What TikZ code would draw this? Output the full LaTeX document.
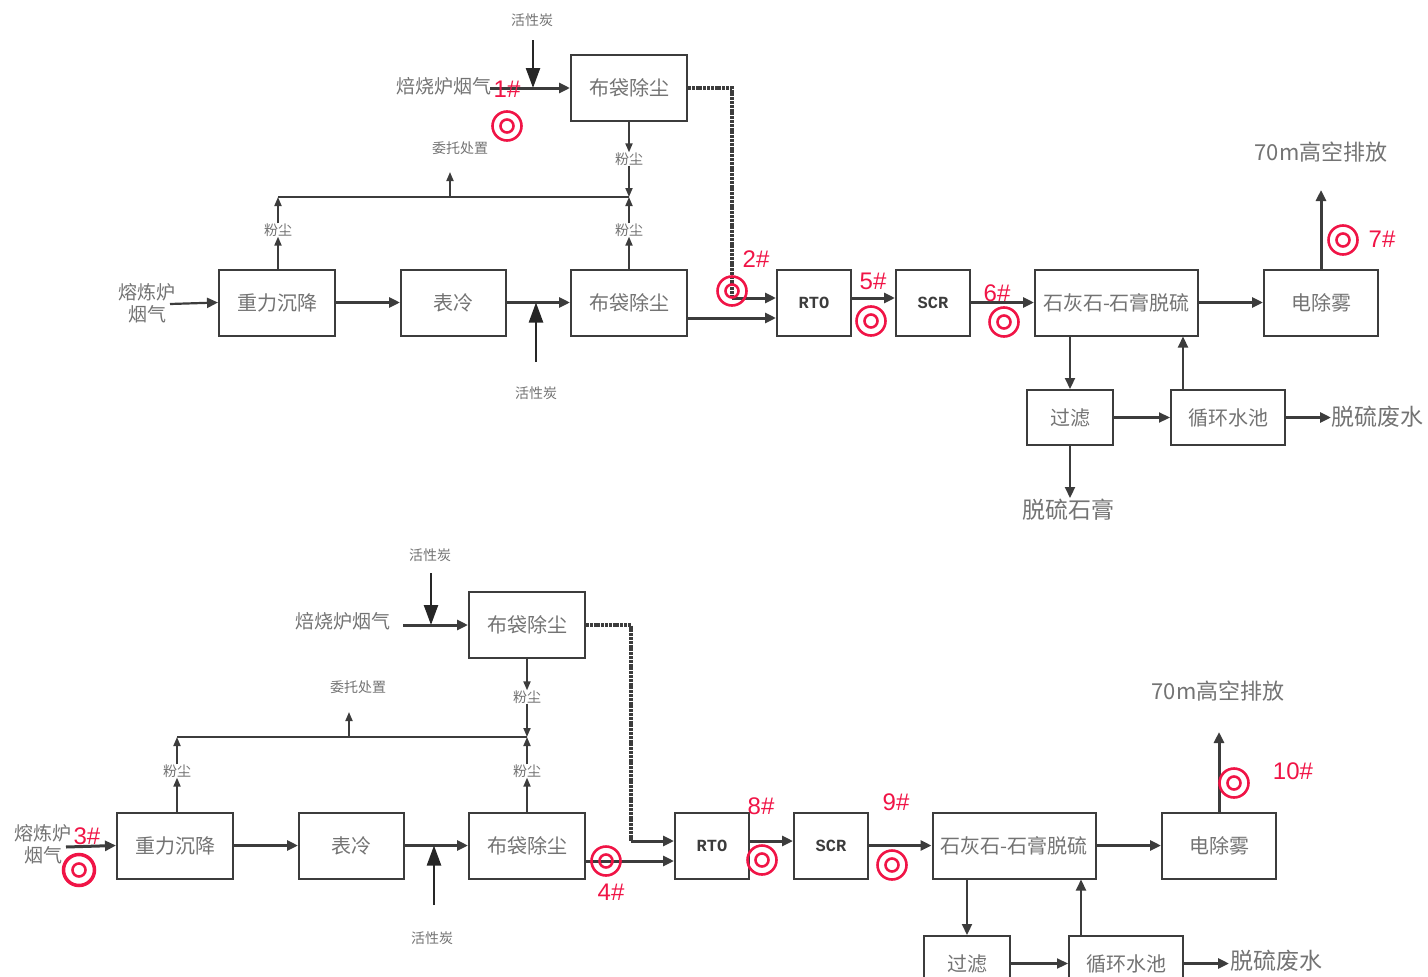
\documentclass[tikz,border=0pt]{standalone}
\usepackage{fontspec}
\setmainfont{Noto Sans CJK SC}
\newfontfamily\latinred{Liberation Sans}
\newfontfamily\monob{Liberation Mono}
\usetikzlibrary{arrows.meta,calc}
\definecolor{tred}{RGB}{240,20,70}
\definecolor{lin}{RGB}{60,60,60}
\definecolor{txt}{RGB}{115,115,115}
\tikzset{
 box/.style={draw=lin,line width=2pt,fill=white,inner sep=0pt,font=\fontsize{20}{22}\selectfont,text=txt},
 boxa/.style={box,minimum width=116pt,minimum height=66pt},
 boxb/.style={box,minimum width=105pt,minimum height=66pt},
 boxc/.style={box,minimum width=74pt,minimum height=66pt,font=\monob\bfseries\fontsize{17}{19}\selectfont,text=lin},
 boxd/.style={box,minimum width=163pt,minimum height=66pt},
 boxe/.style={box,minimum width=86pt,minimum height=55pt},
 boxf/.style={box,minimum width=114pt,minimum height=55pt},
 lab/.style={inner sep=0pt,text=txt,font=\fontsize{19}{21}\selectfont},
 small/.style={inner sep=0pt,text=txt,font=\fontsize{14}{16}\selectfont},
 big/.style={inner sep=0pt,text=txt,font=\fontsize{23}{25}\selectfont},
 vent/.style={inner sep=0pt,text=txt,font=\fontsize{22}{24}\selectfont},
 num/.style={inner sep=0pt,text=tred,font=\latinred\fontsize{24}{26}\selectfont},
 target/.style={circle,draw=tred,line width=2.6pt,minimum size=29pt,inner sep=0pt,
   path picture={\draw[tred,line width=2.6pt] (path picture bounding box.center) circle (6.5);}},
 flow/.style={draw=lin,line width=3pt,-{Triangle[length=11pt,width=10pt]}},
 feed/.style={draw=lin,line width=2.2pt,-{Triangle[length=11pt,width=10pt]}},
 thin/.style={draw=lin,line width=1.8pt,-{Triangle[length=9pt,width=7pt]}},
 plain/.style={draw=lin,line width=2pt},
 duct/.style={draw=lin,line width=3.6pt,dash pattern=on 3pt off 0.8pt},
 bigin/.style={draw=black!85,line width=2.4pt,-{Triangle[length=20pt,width=14pt]}},
}
\begin{document}
\begin{tikzpicture}[x=1pt,y=-1pt]
\useasboundingbox (0,0) rectangle (1428,977);
\clip (0,0) rectangle (1428,977);
% ---------- upper line ----------
\node[boxa] (bagA) at (629,88) {布袋除尘};
\node[boxa] (gravA) at (277,302.5) {重力沉降};
\node[boxb] (coolA) at (453.5,302.5) {表冷};
\node[boxa] (bagB) at (629,302.5) {布袋除尘};
\node[boxc] (rtoA) at (814,302.5) {RTO};
\node[boxc] (scrA) at (933,302.5) {SCR};
\node[boxd] (fgdA) at (1116.5,302.5) {石灰石-石膏脱硫};
\node[boxa,minimum width=114pt] (espA) at (1321,302.5) {电除雾};
\node[boxe] (filA) at (1070,417.5) {过滤};
\node[boxf] (poolA) at (1228,417.5) {循环水池};
\node[small] (acA) at (532,20) {活性炭};
\node[lab] (roastA) at (444,86) {焙烧炉烟气};
\node[small] (dustA) at (629,159) {粉尘};
\node[small] (dustB) at (629,230) {粉尘};
\node[small] (dustC) at (278,230) {粉尘};
\node[small] (entA) at (460,148) {委托处置};
\node[lab,align=center] (smeltA) at (147,303.5) {熔炼炉\\[1pt]烟气};
\node[small] (acB) at (536,393) {活性炭};
\node[vent] (ventA) at (1321,152) {70m高空排放};
\node[big] (gypA) at (1068,510) {脱硫石膏};
\node[big] (wasteA) at (1377,417) {脱硫废水};
\coordinate (roastAs) at (490,88);
\coordinate (acAj) at (533,88);
\coordinate (ductAc) at (732,88);
\coordinate (ductAd) at (732,298);
\coordinate (jA) at (629,197);
\coordinate (jB) at (278,197);
\coordinate (jC) at (450,197);
\coordinate (acBj) at (536,302.5);
\draw[flow] (roastAs) -- (bagA.west);
\draw[bigin] (533,40) -- (acAj);
\draw[duct] (bagA.east) -- (ductAc) -- (ductAd);
\draw[flow] (ductAd) -- ([yshift=4.5pt]rtoA.west);
\draw[flow] ([yshift=-15.5pt]bagB.east) -- ([yshift=-15.5pt]rtoA.west);
\draw[thin] (bagA.south) -- (dustA.north);
\draw[thin] (dustA.south) -- (jA);
\draw[thin] (dustB.north) -- (jA);
\draw[thin] (bagB.north) -- (dustB.south);
\draw[thin] (gravA.north -| dustC) -- (dustC.south);
\draw[thin] (dustC.north) -- (jB);
\draw[plain] (jB) -- (jA);
\draw[thin] (jC) -- (450,172);
\draw[feed] (170,304) -- (gravA.west);
\draw[flow] (gravA.east) -- (coolA.west);
\draw[flow] (coolA.east) -- (bagB.west);
\draw[bigin] (536,362) -- (acBj);
\draw[flow] ([yshift=4.5pt]rtoA.east) -- ([yshift=4.5pt]scrA.west);
\draw[flow] (scrA.east) -- (fgdA.west);
\draw[flow] (fgdA.east) -- (espA.west);
\draw[flow] (espA.north) -- (1321,190);
\draw[feed] (fgdA.south -| filA) -- (filA.north);
\draw[feed] (filA.south) -- (1070,498);
\draw[feed] (filA.east) -- (poolA.west);
\draw[feed] (poolA.north -| 1183,0) -- (fgdA.south -| 1183,0);
\draw[flow] (poolA.east) -- (1331,417.5);
% ---------- lower line ----------
\node[boxa] (bagC) at (527,625) {布袋除尘};
\node[boxa] (gravB) at (175,845.5) {重力沉降};
\node[boxb] (coolB) at (351.5,845.5) {表冷};
\node[boxa] (bagD) at (527,845.5) {布袋除尘};
\node[boxc] (rtoB) at (712,845.5) {RTO};
\node[boxc] (scrB) at (831,845.5) {SCR};
\node[boxd] (fgdB) at (1014,845.5) {石灰石-石膏脱硫};
\node[boxa,minimum width=114pt] (espB) at (1219,845.5) {电除雾};
\node[boxe] (filB) at (967,963.5) {过滤};
\node[boxf] (poolB) at (1126,963.5) {循环水池};
\node[small] (acC) at (430,555) {活性炭};
\node[lab] (roastB) at (343,621) {焙烧炉烟气};
\node[small] (dustD) at (527,697) {粉尘};
\node[small] (dustE) at (527,771) {粉尘};
\node[small] (dustF) at (177,771) {粉尘};
\node[small] (entB) at (358,687) {委托处置};
\node[lab,align=center] (smeltB) at (43,844) {熔炼炉\\[1pt]烟气};
\node[small] (acD) at (432,938) {活性炭};
\node[vent] (ventB) at (1218,691) {70m高空排放};
\node[big] (wasteB) at (1276,961) {脱硫废水};
\coordinate (roastBs) at (403,625);
\coordinate (acCj) at (431,625);
\coordinate (ductBc) at (631,625);
\coordinate (ductBd) at (631,841);
\coordinate (jD) at (527,737);
\coordinate (jE) at (177,737);
\coordinate (jF) at (349,737);
\coordinate (acDj) at (434,845.5);
\draw[flow] (roastBs) -- (bagC.west);
\draw[bigin] (431,573) -- (acCj);
\draw[duct] (bagC.east) -- (ductBc) -- (ductBd);
\draw[flow] (ductBd) -- ([yshift=4.5pt]rtoB.west);
\draw[flow] ([yshift=-15.5pt]bagD.east) -- ([yshift=-15.5pt]rtoB.west);
\draw[thin] (bagC.south) -- (dustD.north);
\draw[thin] (dustD.south) -- (jD);
\draw[thin] (dustE.north) -- (jD);
\draw[thin] (bagD.north) -- (dustE.south);
\draw[thin] (gravB.north -| dustF) -- (dustF.south);
\draw[thin] (dustF.north) -- (jE);
\draw[plain] (jE) -- (jD);
\draw[thin] (jF) -- (349,712);
\draw[flow] (66,847) -- (gravB.west);
\draw[flow] (gravB.east) -- (coolB.west);
\draw[flow] (coolB.east) -- (bagD.west);
\draw[bigin] (434,905) -- (acDj);
\draw[flow] ([yshift=4.5pt]rtoB.east) -- ([yshift=4.5pt]scrB.west);
\draw[flow] (scrB.east) -- (fgdB.west);
\draw[flow] (fgdB.east) -- (espB.west);
\draw[flow] (espB.north) -- (1219,732);
\draw[feed] (fgdB.south -| filB) -- (filB.north);
\draw[feed] (filB.east) -- (poolB.west);
\draw[feed] (poolB.north -| 1081,0) -- (fgdB.south -| 1081,0);
\draw[flow] (poolB.east) -- (1229,963.5);
% ---------- sampling points ----------
\node[target] (p1) at (507,126) {};
\node[num] (n1) at (507,89) {1\#};
\node[target] (p2) at (732,291) {};
\node[num] (n2) at (756,259) {2\#};
\node[target,line width=3.5pt,minimum size=31pt] (p3) at (79,870) {};
\node[num] (n3) at (87,836) {3\#};
\node[target] (p4) at (606,861) {};
\node[num] (n4) at (611,892) {4\#};
\node[target] (p5) at (871,321) {};
\node[num] (n5) at (873,281) {5\#};
\node[target] (p6) at (1004,322) {};
\node[num] (n6) at (997,293) {6\#};
\node[target] (p7) at (1343,240) {};
\node[num] (n7) at (1382,239) {7\#};
\node[target] (p8) at (762,860) {};
\node[num] (n8) at (761,806) {8\#};
\node[target] (p9) at (892,865) {};
\node[num] (n9) at (896,802) {9\#};
\node[target] (p10) at (1234,783) {};
\node[num] (n10) at (1293,771) {10\#};
\end{tikzpicture}
\end{document}
